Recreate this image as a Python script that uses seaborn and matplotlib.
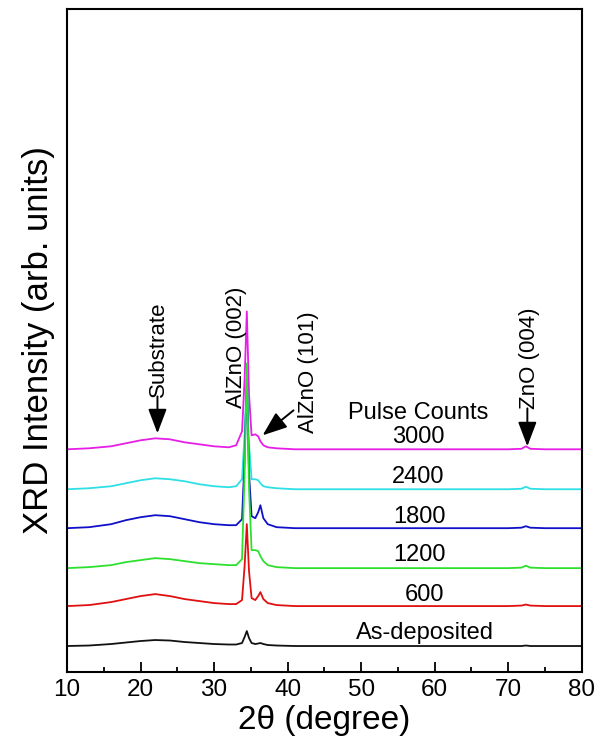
import numpy as np
import pandas as pd
import matplotlib
matplotlib.use("Agg")
import matplotlib.pyplot as plt
import seaborn as sns

# ---- data (intensities in arbitrary units) ----
two_theta = [10, 13, 16, 18, 20, 22, 24, 26, 28, 30, 32, 33, 33.8, 34.15, 34.45,
             34.75, 35.1, 35.6, 36.0, 36.3, 36.7, 37.3, 38.5, 41, 45, 50, 55, 60,
             65, 70, 71.8, 72.4, 73, 75, 80]

int_3000 = [0, 1, 3, 6, 9, 11, 10, 7, 5, 3, 2, 4, 18, 70, 138, 55, 14, 15, 13, 8,
            4, 2, 1, 0, 0, 0, 0, 0, 0, 0, 0.5, 3, 0.5, 0, 0]
int_2400 = [0, 1, 3, 6, 9, 11, 10, 8, 5, 3, 2, 3, 10, 55, 110, 45, 10, 10, 9, 6,
            3, 2, 1, 0, 0, 0, 0, 0, 0, 0, 0.5, 2.5, 0.5, 0, 0]
int_1800 = [0, 1, 4, 8, 11, 13, 12, 9, 6, 4, 3, 3, 9, 70, 150, 55, 12, 10, 16, 23,
            10, 4, 1, 0, 0, 0, 0, 0, 0, 0, 0.5, 2, 0.5, 0, 0]
int_1200 = [0, 1, 3, 6, 8, 10, 9, 7, 5, 4, 3, 3, 9, 95, 205, 80, 18, 18, 17, 12,
            7, 3, 1, 0, 0, 0, 0, 0, 0, 0, 0.5, 2.5, 0.5, 0, 0]
int_600 = [0, 1, 4, 7, 10, 12, 10, 7, 5, 3, 2, 2, 6, 40, 82, 35, 8, 6, 10, 14,
           7, 3, 1, 0, 0, 0, 0, 0, 0, 0, 0.5, 1.5, 0.5, 0, 0]
int_asdep = [0, 0.5, 2, 3.5, 5, 6, 5.5, 4, 3, 2, 1.5, 1.5, 3, 9, 15, 8, 3, 2, 2.5, 3,
             2, 1, 0.5, 0, 0, 0, 0, 0, 0, 0, 0, 0.5, 0, 0, 0]

series_names = ["3000", "2400", "1800", "1200", "600", "As-deposited"]
series_values = [int_3000, int_2400, int_1800, int_1200, int_600, int_asdep]
offsets = [223, 183, 144, 104, 66, 26]   # vertical stacking offsets
colors = ["#e61ee6", "#2ee0e6", "#1010c8", "#2ee02e", "#e01010", "#111111"]

x_ticks = [10, 20, 30, 40, 50, 60, 70, 80]

# ---- build long-form frame ----
frames = []
for name, vals, off in zip(series_names, series_values, offsets):
    frames.append(pd.DataFrame({"two_theta": two_theta,
                                "intensity": np.array(vals, float) + off,
                                "sample": name}))
df = pd.concat(frames, ignore_index=True)

sns.set_style("white")
plt.rcParams["font.family"] = ["Liberation Sans", "DejaVu Sans"]
plt.rcParams["text.color"] = "black"
plt.rcParams["axes.labelcolor"] = "black"
plt.rcParams["xtick.color"] = "black"
plt.rcParams["ytick.color"] = "black"

fig = plt.figure(figsize=(6.01, 7.44), dpi=100)
ax = fig.add_axes([0.1115, 0.0968, 0.8565, 0.8912])

for name, col in zip(series_names, colors):
    sns.lineplot(data=df[df["sample"] == name], x="two_theta", y="intensity",
                 color=col, linewidth=1.3, estimator=None, sort=False, ax=ax,
                 legend=False)

ax.set_xlim(10, 80)
ax.set_ylim(0, 664)
ax.set_xticks(x_ticks)
ax.set_xticks(np.arange(15, 80, 10), minor=True)
ax.set_yticks([])
ax.tick_params(axis="x", which="major", direction="in", length=7.2, width=1.3,
               labelsize=17.5, pad=5, bottom=True, top=False, colors="black")
ax.tick_params(axis="x", which="minor", direction="in", length=3.6, width=1.3,
               bottom=True, top=False, colors="black")
for s in ax.spines.values():
    s.set_visible(True)
    s.set_linewidth(1.5)
    s.set_color("black")

ax.set_xlabel("2θ (degree)", fontsize=24, labelpad=3, color="black")
ax.set_ylabel("XRD Intensity (arb. units)", fontsize=25, labelpad=9, color="black")

fs_h = 17
fs_r = 16
# sample labels
label_pos = [(57.75, 235), (57.75, 195), (58.0, 155), (58.0, 117), (58.6, 77), (58.7, 39)]
for name, (lx, ly) in zip(series_names, label_pos):
    ax.text(lx, ly, name, ha="center", va="center", fontsize=fs_h, color="black")
ax.text(57.75, 259, "Pulse Counts", ha="center", va="center", fontsize=fs_h,
        color="black")

arrow_kw = dict(arrowstyle="-|>,head_length=1.0,head_width=0.38", color="black",
                lw=1.4, mutation_scale=15, shrinkA=0, shrinkB=0)

# Substrate
ax.text(22.4, 275, "Substrate", rotation=90, ha="center", va="bottom",
        fontsize=fs_r, color="black")
ax.annotate("", xy=(22.3, 239), xytext=(22.3, 276), arrowprops=arrow_kw)

# AlZnO (002)
ax.text(33.1, 325, "AlZnO (002)", rotation=90, ha="center", va="center",
        fontsize=fs_r, color="black")

# AlZnO (101)
ax.text(42.8, 300, "AlZnO (101)", rotation=90, ha="center", va="center",
        fontsize=fs_r, color="black")
ax.annotate("", xy=(36.6, 237), xytext=(40.8, 262), arrowprops=arrow_kw)

# ZnO (004)
ax.text(72.9, 263, "ZnO (004)", rotation=90, ha="center", va="bottom",
        fontsize=fs_r, color="black")
ax.annotate("", xy=(72.6, 226), xytext=(72.6, 264), arrowprops=arrow_kw)

fig.savefig("out.png", dpi=100)
